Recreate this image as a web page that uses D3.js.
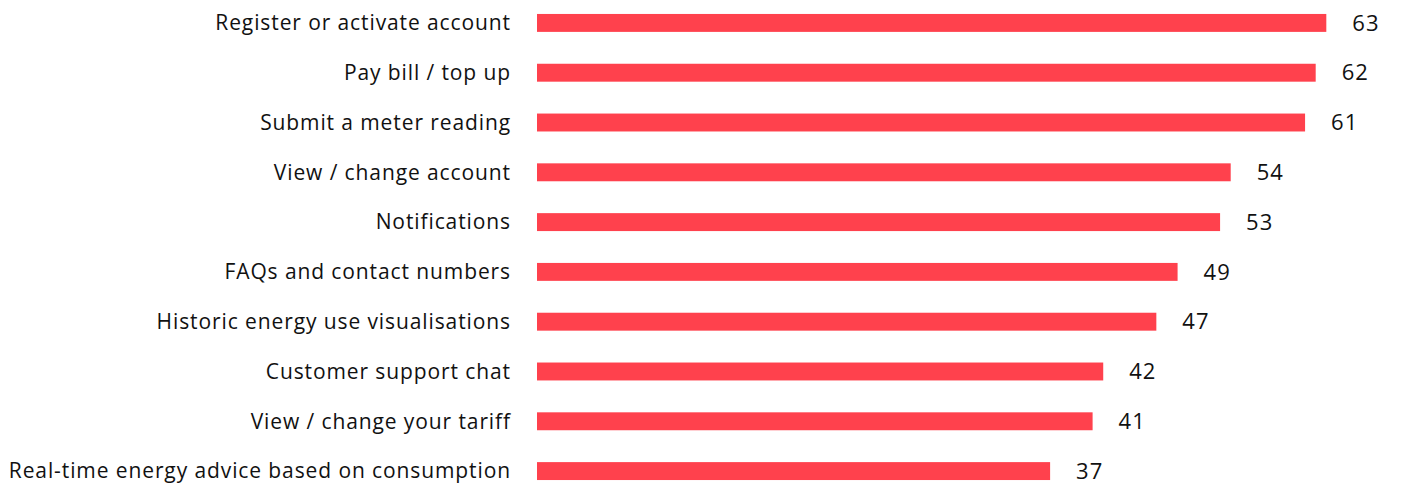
<!DOCTYPE html>
<html>
<head>
<meta charset="utf-8">
<script src="https://cdn.jsdelivr.net/npm/d3@7/dist/d3.min.js"></script>
<style>
  html, body { margin: 0; padding: 0; background: #fff; }
  .cat-label { font-family: "Open Sans", Lato, sans-serif; font-size: 21px; letter-spacing: 0.9px; fill: #111; }
  .val-label { font-family: "Open Sans", Lato, sans-serif; font-size: 22px; letter-spacing: 1px; fill: #111; }
  .bar { fill: #ff414d; }
</style>
</head>
<body>
<svg id="chart"></svg>
<script>
var categories = [
    "Register or activate account",
    "Pay bill / top up",
    "Submit a meter reading",
    "View / change account",
    "Notifications",
    "FAQs and contact numbers",
    "Historic energy use visualisations",
    "Customer support chat",
    "View / change your tariff",
    "Real-time energy advice based on consumption"
];
var values = [63, 62, 61, 54, 53, 49, 47, 42, 41, 37];

(function() {
    var width = 1411, height = 488;
    var svg = d3.select("#chart").attr("width", width).attr("height", height);

    var rows = categories.map(function(c, i) { return {name: c, value: values[i]}; });

    // bars don't start at zero in the original, fit the scale to the bar ends
    var x = d3.scaleLinear()
        .domain([-11.3, 64.1])
        .range([537, 1338]);

    var y = d3.scaleBand()
        .domain(categories)
        .range([4, 490])
        .paddingInner(0.64)
        .paddingOuter(0.2);

    var g = svg.append("g");

    g.selectAll(".bar")
        .data(rows)
        .enter()
        .append("rect")
        .attr("class", "bar")
        .attr("x", x.range()[0])
        .attr("y", function(d) { return y(d.name); })
        .attr("width", function(d) { return x(d.value) - x.range()[0]; })
        .attr("height", y.bandwidth());

    g.selectAll(".cat-label")
        .data(rows)
        .enter()
        .append("text")
        .attr("class", "cat-label")
        .attr("x", 511)
        .attr("y", function(d) { return y(d.name) + y.bandwidth() / 2; })
        .attr("dy", "0.35em")
        .attr("text-anchor", "end")
        .text(function(d) { return d.name; });

    g.selectAll(".val-label")
        .data(rows)
        .enter()
        .append("text")
        .attr("class", "val-label")
        .attr("x", function(d) { return x(d.value) + 26; })
        .attr("y", function(d) { return y(d.name) + y.bandwidth() / 2; })
        .attr("dy", "0.35em")
        .text(function(d) { return d.value; });
})();
</script>
</body>
</html>
